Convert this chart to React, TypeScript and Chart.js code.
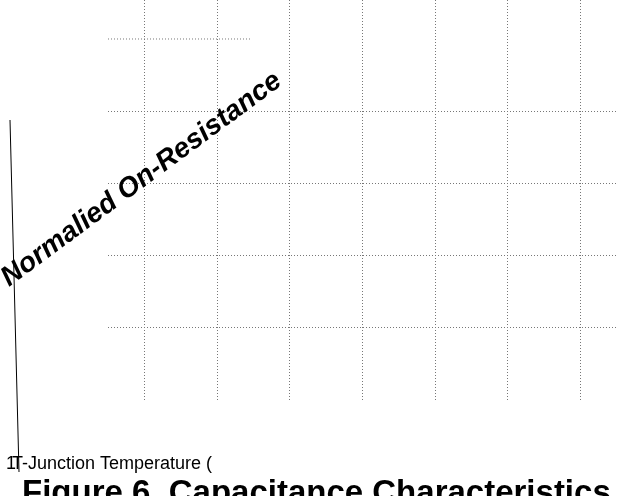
import React, { useEffect, useRef } from "react";
import { Chart, registerables } from "chart.js";

Chart.register(...registerables);

// Junction temperature ticks (°C) and normalized on-resistance ticks
const xTicks = [-25, 0, 25, 50, 75, 100, 125];
const yTicks = [0.5, 1.0, 1.5, 2.0, 2.5];
const xRange = [-37.5, 137.5];
const yRange = [0, 2.77];
// top gridline segment that is only partly drawn
const topLineX = [-37.5, 12];
const topLineY = [2.5, 2.5];

const yAxisTitle = "Normalied On-Resistance";
const xAxisTitle = "T-Junction Temperature (";
const figureTitle = "Figure 6. Capacitance Characteristics";

const decorations = {
  id: "decorations",
  afterDraw(chart: any) {
    const ctx = chart.ctx as CanvasRenderingContext2D;
    ctx.save();
    // stray axis line
    ctx.strokeStyle = "#000";
    ctx.lineWidth = 1;
    ctx.beginPath();
    ctx.moveTo(10, 120);
    ctx.lineTo(19, 472);
    ctx.stroke();

    // rotated y title
    ctx.save();
    ctx.translate(9, 287);
    ctx.rotate((-36.5 * Math.PI) / 180);
    ctx.fillStyle = "#000";
    ctx.font = "italic bold 28px 'Liberation Sans', Arial, sans-serif";
    ctx.textBaseline = "alphabetic";
    ctx.fillText(yAxisTitle, 0, 0);
    ctx.restore();

    // x title
    ctx.fillStyle = "#000";
    ctx.font = "18px 'Liberation Sans', Arial, sans-serif";
    ctx.fillText("1", 6, 469);
    ctx.fillText(xAxisTitle, 12, 469);

    // figure caption
    ctx.font = "bold 33px 'Liberation Sans', Arial, sans-serif";
    ctx.fillText(figureTitle, 22, 503);
    ctx.restore();
  },
};

export default function App() {
  const ref = useRef<HTMLCanvasElement>(null);
  useEffect(() => {
    if (!ref.current) return;
    const chart = new Chart(ref.current, {
      type: "scatter",
      data: {
        datasets: [
          {
            data: topLineX.map((x, i) => ({ x, y: topLineY[i] })),
            showLine: true,
            borderColor: "#777",
            borderWidth: 1,
            borderDash: [1, 2],
            pointRadius: 0,
            fill: false,
          },
        ],
      },
      options: {
        responsive: false,
        animation: false,
        events: [],
        layout: { padding: { left: 108, top: 0, right: 0, bottom: 96 } },
        plugins: { legend: { display: false }, tooltip: { enabled: false }, title: { display: false } },
        scales: {
          x: {
            type: "linear",
            min: xRange[0],
            max: xRange[1],
            afterBuildTicks: (s: any) => {
              s.ticks = xTicks.map((v) => ({ value: v }));
            },
            ticks: { display: false },
            grid: { color: "#777", lineWidth: 1, drawTicks: false },
            border: { display: false, dash: [1, 2] },
          },
          y: {
            type: "linear",
            min: yRange[0],
            max: yRange[1],
            afterBuildTicks: (s: any) => {
              s.ticks = yTicks.slice(0, 4).map((v) => ({ value: v }));
            },
            ticks: { display: false },
            grid: { color: "#777", lineWidth: 1, drawTicks: false },
            border: { display: false, dash: [1, 2] },
          },
        },
      },
      plugins: [decorations],
    });
    return () => chart.destroy();
  }, []);
  return (
    <div style={{ position: "fixed", left: 0, top: 0, width: 617, height: 496, background: "#fff" }}>
      <canvas ref={ref} width={617} height={496} style={{ display: "block", width: 617, height: 496 }} />
    </div>
  );
}
